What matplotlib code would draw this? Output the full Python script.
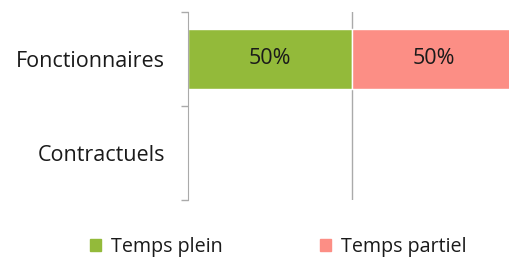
import matplotlib
matplotlib.use("Agg")
import matplotlib.pyplot as plt
from matplotlib.patches import Patch

categories = ["Fonctionnaires", "Contractuels"]
temps_plein = [50, 0]
temps_partiel = [50, 0]
series_names = ["Temps plein", "Temps partiel"]
colors = ["#93BA3A", "#FC8E85"]

plt.rcParams['font.family'] = ['Open Sans', 'DejaVu Sans']

fig = plt.figure(figsize=(5.09, 2.67), dpi=100)
ax = fig.add_axes([188/509, 1-200/267, 1-188/509, 188/267])

y = [1, 0]
ax.barh(y, temps_plein, height=0.63, color=colors[0], edgecolor="white", linewidth=1)
ax.barh(y, temps_partiel, left=temps_plein, height=0.63, color=colors[1], edgecolor="white", linewidth=1)

for yi, a, b in zip(y, temps_plein, temps_partiel):
    if a > 0:
        ax.text(a/2, yi, f"{a}%", ha="center", va="center", fontsize=15.5, color="#1a1a1a")
    if b > 0:
        ax.text(a + b/2, yi, f"{b}%", ha="center", va="center", fontsize=15.5, color="#1a1a1a")

xmax = (509-188)/164*50
ax.set_xlim(0, xmax)
ax.set_ylim(-0.5, 1.5)
ax.set_yticks([-0.5, 0.5, 1.5])
ax.set_yticklabels([])
ax.set_yticks(y, minor=True)
ax.set_yticklabels(categories, minor=True, fontsize=15.5, color="#1a1a1a")
ax.tick_params(axis="y", which="minor", length=0, pad=16.5)
ax.tick_params(axis="y", which="major", length=5, color="#AAAAAA", width=1)
ax.set_xticks([50])
ax.set_xticklabels([])
ax.tick_params(axis="x", length=0)
ax.grid(axis="x", color="#AAAAAA", linewidth=1)
ax.set_axisbelow(True)
for s in ["top", "right", "bottom"]:
    ax.spines[s].set_visible(False)
ax.spines["left"].set_color("#AAAAAA")

handles = [Patch(color=c, label=n) for c, n in zip(colors, series_names)]
leg = fig.legend(handles=handles, loc="center", bbox_to_anchor=(278.5/509, 1-247/267), ncol=2,
           frameon=False, fontsize=14.2, handlelength=0.55, handleheight=0.55,
           columnspacing=4.95, handletextpad=0.5)
for t in leg.get_texts():
    t.set_color("#1a1a1a")

fig.savefig("out.png", dpi=100)
